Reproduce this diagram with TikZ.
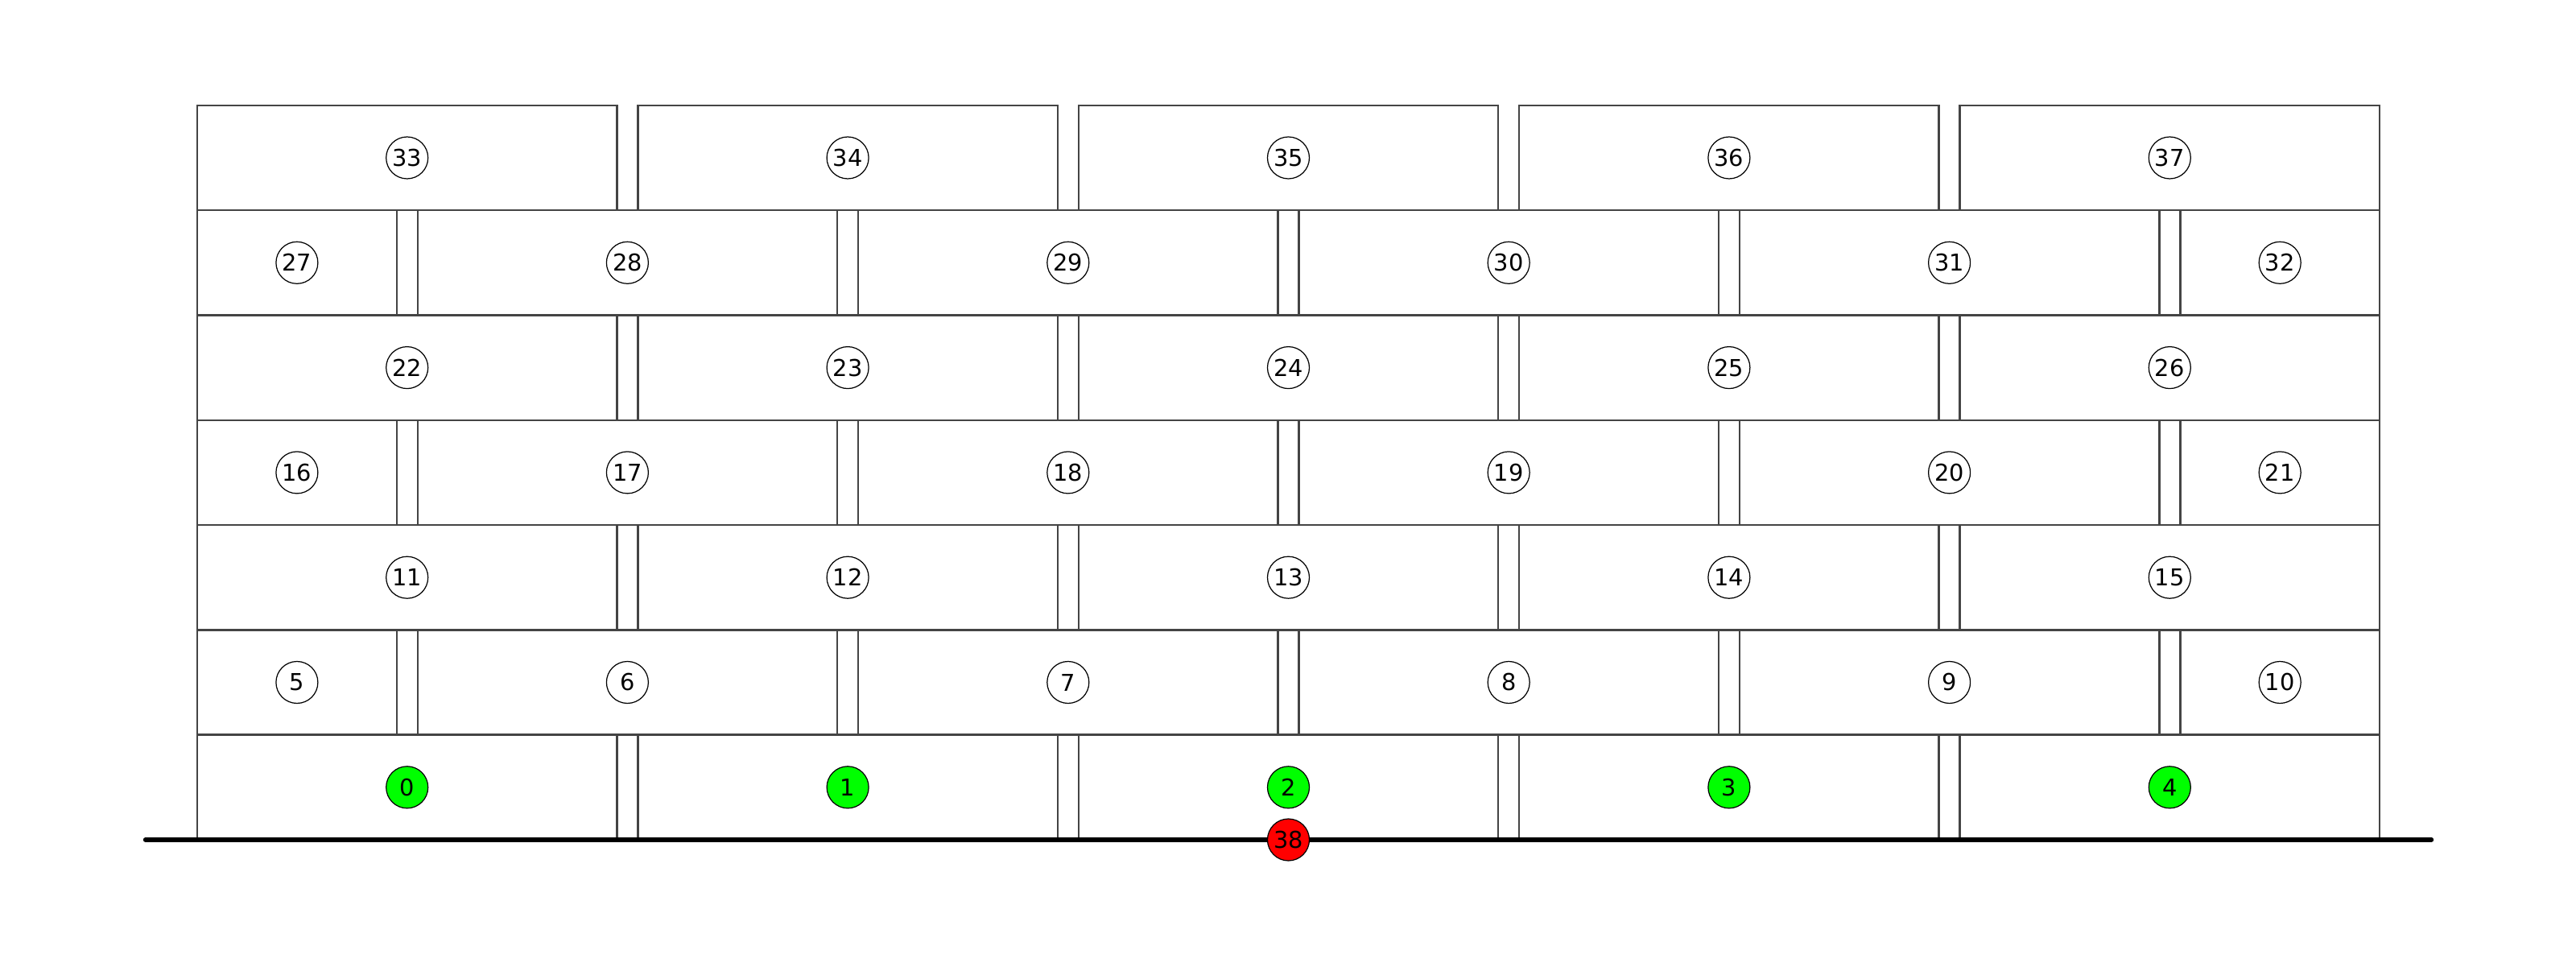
\documentclass[tikz,border=0pt]{standalone}
\usepackage{fontspec}
\setsansfont{DejaVu Sans}
\definecolor{mortar}{HTML}{444444}
\definecolor{fixed}{HTML}{00FF00}
\definecolor{anchorpt}{HTML}{FF0000}

\begin{document}
\begin{tikzpicture}[
  font=\sffamily\fontsize{8.2}{9.8}\selectfont,
  brick/.style={draw=mortar,line width=.68pt,minimum width=52.14mm,
    minimum height=13.03mm,inner sep=0pt},
  half/.style={brick,minimum width=24.77mm},
  num/.style={circle,draw=black,line width=.35pt,fill=white,
    minimum size=5.2mm,inner sep=0pt},
  fixednum/.style={num,fill=fixed},
  groundnum/.style={num,fill=anchorpt},
  ground/.style={draw=black,line width=1.5pt,line cap=round}
]
\path[use as bounding box] (0,0) rectangle (32,12);
% bottom course
\node[brick] (br0) at (5.057,2.222) {};
\node[brick] (br1) at (10.531,2.222) {};
\node[brick] (br2) at (16.005,2.222) {};
\node[brick] (br3) at (21.479,2.222) {};
\node[brick] (br4) at (26.953,2.222) {};
% course 1
\node[half] (br5) at (3.689,3.525) {};
\node[brick] (br6) at (7.794,3.525) {};
\node[brick] (br7) at (13.268,3.525) {};
\node[brick] (br8) at (18.742,3.525) {};
\node[brick] (br9) at (24.216,3.525) {};
\node[half] (br10) at (28.322,3.525) {};
% course 2
\node[brick] (br11) at (5.057,4.828) {};
\node[brick] (br12) at (10.531,4.828) {};
\node[brick] (br13) at (16.005,4.828) {};
\node[brick] (br14) at (21.479,4.828) {};
\node[brick] (br15) at (26.953,4.828) {};
% course 3
\node[half] (br16) at (3.689,6.131) {};
\node[brick] (br17) at (7.794,6.131) {};
\node[brick] (br18) at (13.268,6.131) {};
\node[brick] (br19) at (18.742,6.131) {};
\node[brick] (br20) at (24.216,6.131) {};
\node[half] (br21) at (28.322,6.131) {};
% course 4
\node[brick] (br22) at (5.057,7.434) {};
\node[brick] (br23) at (10.531,7.434) {};
\node[brick] (br24) at (16.005,7.434) {};
\node[brick] (br25) at (21.479,7.434) {};
\node[brick] (br26) at (26.953,7.434) {};
% course 5
\node[half] (br27) at (3.689,8.737) {};
\node[brick] (br28) at (7.794,8.737) {};
\node[brick] (br29) at (13.268,8.737) {};
\node[brick] (br30) at (18.742,8.737) {};
\node[brick] (br31) at (24.216,8.737) {};
\node[half] (br32) at (28.322,8.737) {};
% top course
\node[brick] (br33) at (5.057,10.040) {};
\node[brick] (br34) at (10.531,10.040) {};
\node[brick] (br35) at (16.005,10.040) {};
\node[brick] (br36) at (21.479,10.040) {};
\node[brick] (br37) at (26.953,10.040) {};

% ground
\coordinate (gl) at (1.805,1.57);
\coordinate (gr) at (30.205,1.57);
\draw[ground] (gl) -- (gr);

% brick ids
\node[fixednum] (id0) at (br0) {0};
\node[fixednum] (id1) at (br1) {1};
\node[fixednum] (id2) at (br2) {2};
\node[fixednum] (id3) at (br3) {3};
\node[fixednum] (id4) at (br4) {4};
\node[num] (id5) at (br5) {5};
\node[num] (id6) at (br6) {6};
\node[num] (id7) at (br7) {7};
\node[num] (id8) at (br8) {8};
\node[num] (id9) at (br9) {9};
\node[num] (id10) at (br10) {10};
\node[num] (id11) at (br11) {11};
\node[num] (id12) at (br12) {12};
\node[num] (id13) at (br13) {13};
\node[num] (id14) at (br14) {14};
\node[num] (id15) at (br15) {15};
\node[num] (id16) at (br16) {16};
\node[num] (id17) at (br17) {17};
\node[num] (id18) at (br18) {18};
\node[num] (id19) at (br19) {19};
\node[num] (id20) at (br20) {20};
\node[num] (id21) at (br21) {21};
\node[num] (id22) at (br22) {22};
\node[num] (id23) at (br23) {23};
\node[num] (id24) at (br24) {24};
\node[num] (id25) at (br25) {25};
\node[num] (id26) at (br26) {26};
\node[num] (id27) at (br27) {27};
\node[num] (id28) at (br28) {28};
\node[num] (id29) at (br29) {29};
\node[num] (id30) at (br30) {30};
\node[num] (id31) at (br31) {31};
\node[num] (id32) at (br32) {32};
\node[num] (id33) at (br33) {33};
\node[num] (id34) at (br34) {34};
\node[num] (id35) at (br35) {35};
\node[num] (id36) at (br36) {36};
\node[num] (id37) at (br37) {37};
\node[groundnum] (id38) at (16.005,1.57) {38};
\end{tikzpicture}
\end{document}
